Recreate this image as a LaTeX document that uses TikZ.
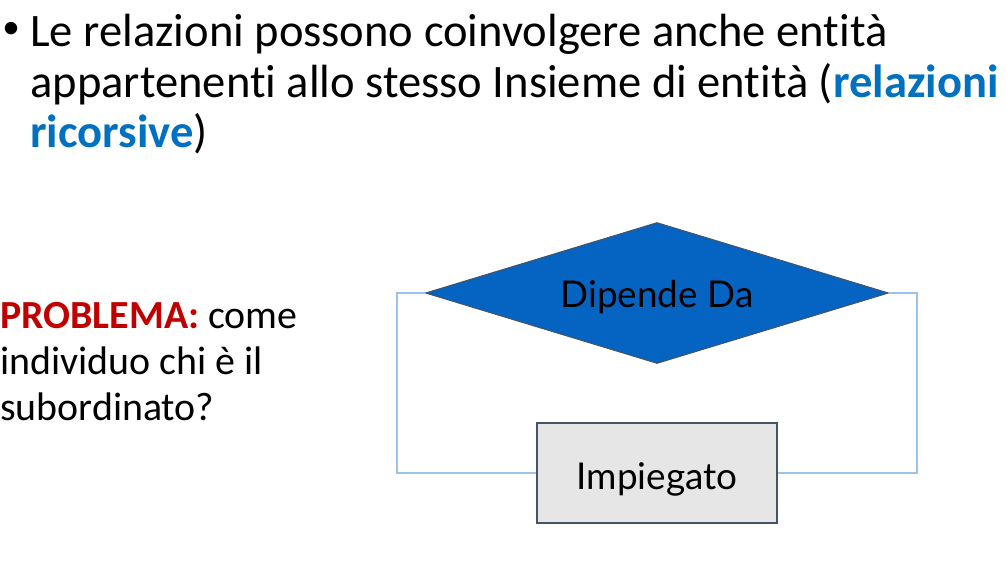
\documentclass[tikz,border=0pt]{standalone}
\usepackage{fontspec}
\setmainfont[Ligatures=NoCommon]{Carlito}
\newfontfamily\shapefont{Lato}
\usetikzlibrary{shapes.geometric,positioning}

\definecolor{relblue}{RGB}{5,99,193}
\definecolor{linkblue}{RGB}{0,112,192}
\definecolor{probred}{RGB}{192,0,0}
\definecolor{edgeblue}{RGB}{157,195,230}
\definecolor{boxgray}{RGB}{231,230,230}
\definecolor{boxedge}{RGB}{68,84,106}

\begin{document}
\begin{tikzpicture}[x=0.02cm, y=-0.02cm,
    bodytext/.style={anchor=base west, inner sep=0pt, font=\fontsize{26.5}{30}\selectfont},
    sidetext/.style={anchor=base west, inner sep=0pt, font=\fontsize{22.7}{27}\selectfont},
    relation/.style={diamond, draw=boxedge, fill=relblue, line width=0.6pt, aspect=3.28,
      minimum width=9.26cm, minimum height=2.82cm, inner sep=0pt,
      text height=21pt, text depth=5pt, font=\shapefont\fontsize{21}{24}\selectfont},
    entity/.style={rectangle, draw=boxedge, fill=boxgray, line width=1.1pt,
      minimum width=4.8cm, minimum height=2cm,
      text height=23pt, text depth=3.8pt, font=\shapefont\fontsize{21}{24}\selectfont},
    link/.style={draw=edgeblue, line width=0.6pt}]
  \useasboundingbox (0,0) rectangle (1006,562);

  % bullet text
  \node [anchor=center, inner sep=0pt, font=\fontsize{20}{20}\selectfont] (bullet) at (11,30) {\textbullet};
  \node [bodytext] (line1) at (30,46) {Le relazioni possono coinvolgere anche entità};
  \node [bodytext] (line2) at (30,97) {appartenenti allo stesso Insieme di entità (\textcolor{linkblue}{\textbf{relazioni}}};
  \node [bodytext] (line3) at (30,147) {\textcolor{linkblue}{\textbf{ricorsive}})};

  % side question
  \node [sidetext] (prob1) at (0,328) {\textcolor{probred}{\textbf{PROBLEMA:}} come};
  \node [sidetext] (prob2) at (0,374) {individuo chi è il};
  \node [sidetext] (prob3) at (0,420) {subordinato?};

  % diagram
  \node [relation] (dip) at (657,293) {Dipende Da};
  \node [entity] (imp) at (657,473) {Impiegato};

  \coordinate (lcorner) at (397,293);
  \coordinate (rcorner) at (917,293);
  \draw [link] (dip.west) -- (lcorner) |- (imp.west);
  \draw [link] (dip.east) -- (rcorner) |- (imp.east);
\end{tikzpicture}
\end{document}
